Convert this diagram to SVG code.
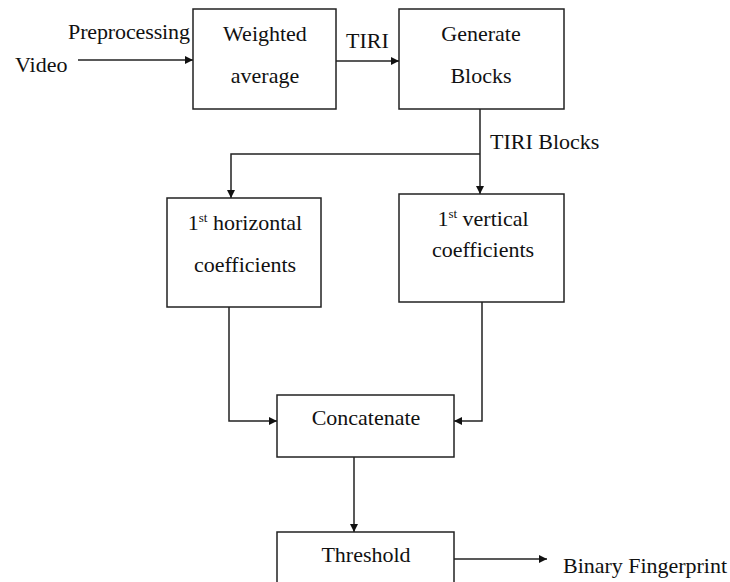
<svg xmlns="http://www.w3.org/2000/svg" width="730" height="582" viewBox="0 0 730 582">
<style>
text{font-family:"Liberation Serif","Times New Roman",serif;font-size:22px;fill:#111}
.box{fill:#fff;stroke:#222;stroke-width:1.5}
.c{text-anchor:middle}
.ln{fill:none;stroke:#222;stroke-width:1.5}
.sup{font-size:13px}
</style>
<defs>
<marker id="ah" viewBox="0 0 10 10" refX="10" refY="5" markerWidth="8" markerHeight="8" markerUnits="userSpaceOnUse" orient="auto">
<path d="M0,0 L10,5 L0,10 z" fill="#111"/>
</marker>
</defs>
<rect width="730" height="582" fill="#fff"/>
<g id="connectors">
<path class="ln" d="M78,60 H193" marker-end="url(#ah)"/>
<path class="ln" d="M336,61 H399" marker-end="url(#ah)"/>
<path class="ln" d="M480,109 V194" marker-end="url(#ah)"/>
<path class="ln" d="M480,154 H231 V198" marker-end="url(#ah)"/>
<path class="ln" d="M229,307 V421 H277" marker-end="url(#ah)"/>
<path class="ln" d="M482,302 V421 H454" marker-end="url(#ah)"/>
<path class="ln" d="M354,457 V532" marker-end="url(#ah)"/>
<path class="ln" d="M454,559 H547" marker-end="url(#ah)"/>
<text x="15" y="72">Video</text>
<text x="68" y="39" textLength="122">Preprocessing</text>
<text x="346" y="48">TIRI</text>
<text x="490" y="149">TIRI Blocks</text>
<text x="563" y="573" textLength="164">Binary Fingerprint</text>
</g>
<g id="weighted">
<rect class="box" x="193" y="9" width="143" height="100"/>
<text class="c" x="265" y="41">Weighted</text>
<text class="c" x="265" y="83">average</text>
</g>
<g id="generate">
<rect class="box" x="399" y="9" width="165" height="100"/>
<text class="c" x="481" y="41">Generate</text>
<text class="c" x="481" y="83">Blocks</text>
</g>
<g id="horizontal">
<rect class="box" x="167" y="198" width="154" height="109"/>
<text class="c" x="245" y="230">1<tspan class="sup" dy="-8">st</tspan><tspan dy="8"> horizontal</tspan></text>
<text class="c" x="245" y="272">coefficients</text>
</g>
<g id="vertical">
<rect class="box" x="399" y="194" width="165" height="108"/>
<text class="c" x="483" y="226">1<tspan class="sup" dy="-8">st</tspan><tspan dy="8"> vertical</tspan></text>
<text class="c" x="483" y="257">coefficients</text>
</g>
<g id="concatenate">
<rect class="box" x="277" y="395" width="177" height="62"/>
<text class="c" x="366" y="425">Concatenate</text>
</g>
<g id="threshold">
<rect class="box" x="277" y="532" width="177" height="60"/>
<text class="c" x="366" y="562">Threshold</text>
</g>
</svg>
